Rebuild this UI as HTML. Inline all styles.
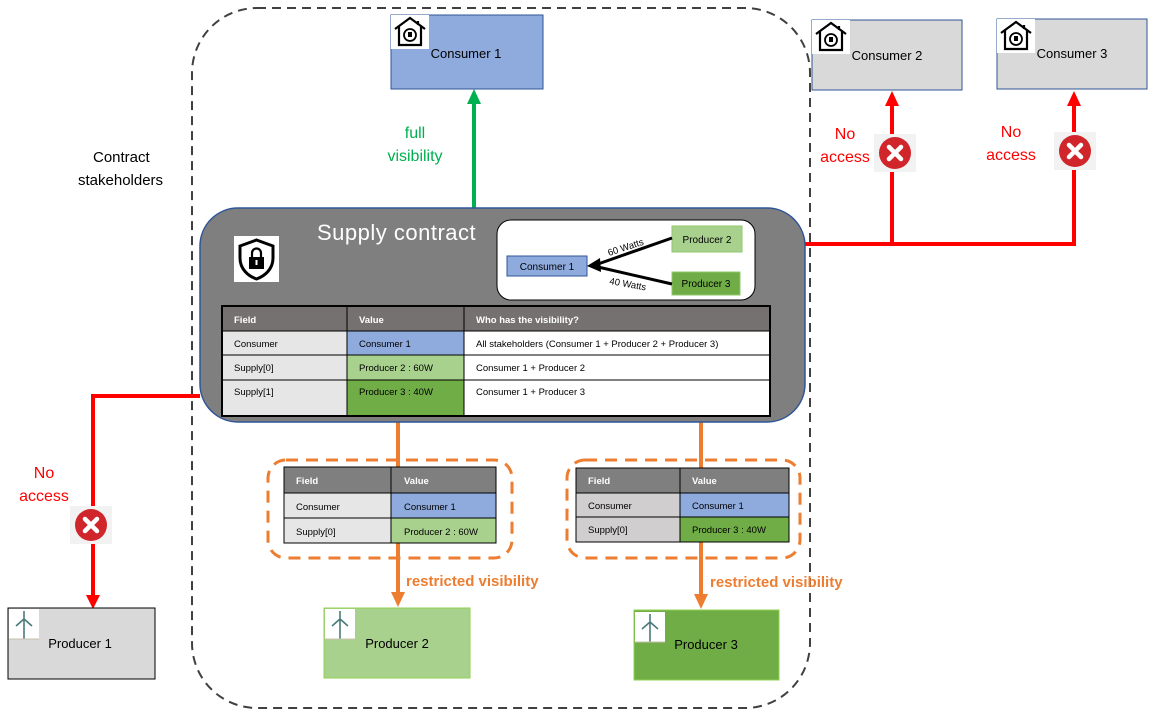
<!DOCTYPE html>
<html><head><meta charset="utf-8"><style>
html,body{margin:0;padding:0;background:#fff;}
svg{display:block;font-family:"Liberation Sans",sans-serif;}
</style></head><body>
<svg width="1157" height="718" viewBox="0 0 1157 718" xmlns="http://www.w3.org/2000/svg">
<defs>
<g id="house"><rect x="0" y="0" width="38" height="34" fill="#fff"/>
<path d="M4 14 L19 3 L34 14 M8 11 V30 H30 V11 M27 6 V10" fill="none" stroke="#000" stroke-width="2.2"/>
<circle cx="19" cy="20" r="6" fill="none" stroke="#000" stroke-width="1.8"/><rect x="17" y="17" width="4" height="5" fill="#000"/></g>
<g id="turb"><rect x="0" y="0" width="30" height="30" fill="#fff"/><path d="M15 10 V30 M15 10 L7 17 M15 10 L23 17 M15 10 L15 2" stroke="#4a7a7a" stroke-width="1.6" fill="none"/><line x1="0" y1="30" x2="30" y2="30" stroke="#c8c0b0"/></g>
<g id="xic"><rect x="-21" y="-19" width="42" height="38" fill="#f2f2f2"/><circle r="16" fill="#d0252b"/><path d="M-6 -6 L6 6 M6 -6 L-6 6" stroke="#fff" stroke-width="4.5" stroke-linecap="round"/></g>
</defs>

<!-- dashed container -->
<rect x="192" y="8" width="618" height="700" rx="65" fill="none" stroke="#404040" stroke-width="2" stroke-dasharray="9,6"/>
<text x="93" y="162" font-size="15">Contract</text>
<text x="78" y="185" font-size="15">stakeholders</text>

<!-- consumers -->
<rect x="391" y="15" width="152" height="74" fill="#8faadc" stroke="#2f5597"/>
<use href="#house" x="391" y="15"/>
<text x="466" y="58" font-size="13" text-anchor="middle">Consumer 1</text>
<rect x="812" y="20" width="150" height="70" fill="#d9d9d9" stroke="#2f5597"/>
<use href="#house" x="812" y="20"/>
<text x="887" y="60" font-size="13" text-anchor="middle">Consumer 2</text>
<rect x="997" y="19" width="150" height="70" fill="#d9d9d9" stroke="#2f5597"/>
<use href="#house" x="997" y="19"/>
<text x="1072" y="58" font-size="13" text-anchor="middle">Consumer 3</text>

<!-- green arrow -->
<line x1="474" y1="208" x2="474" y2="102" stroke="#00b050" stroke-width="4"/>
<path d="M467 104 L474 89 L481 104 Z" fill="#00b050"/>
<text x="415" y="138" font-size="16" fill="#00b050" text-anchor="middle">full</text>
<text x="415" y="161" font-size="16" fill="#00b050" text-anchor="middle">visibility</text>

<!-- red lines -->
<g stroke="#ff0000" stroke-width="4" fill="none">
<path d="M805 244 H1074 V104 M892 244 V104"/>
<path d="M200 396 H93 V597"/>
</g>
<path d="M885 106 L892 91 L899 106 Z M1067 106 L1074 91 L1081 106 Z M86 595 L93 609 L100 595 Z" fill="#ff0000"/>
<use href="#xic" x="895" y="153"/>
<use href="#xic" x="1075" y="151"/>
<use href="#xic" x="91" y="525"/>
<g font-size="16" fill="#ff0000" text-anchor="middle">
<text x="845" y="139">No</text><text x="845" y="162">access</text>
<text x="1011" y="137">No</text><text x="1011" y="160">access</text>
<text x="44" y="478">No</text><text x="44" y="501">access</text>
</g>

<!-- orange lines -->
<g stroke="#ed7d31" stroke-width="4">
<line x1="398" y1="422" x2="398" y2="594"/><line x1="701" y1="422" x2="701" y2="596"/></g>
<path d="M391 592 L398 607 L405 592 Z M694 594 L701 609 L708 594 Z" fill="#ed7d31"/>
<g font-size="15" font-weight="bold" fill="#ed7d31"><text x="406" y="586">restricted visibility</text><text x="710" y="587">restricted visibility</text></g>

<!-- supply contract -->
<rect x="200" y="208" width="605" height="214" rx="38" fill="#7f7f7f" stroke="#2f5597" stroke-width="1.5"/>
<text x="317" y="240" font-size="22" fill="#fff" letter-spacing="0.5">Supply  contract</text>
<rect x="234" y="236" width="45" height="46" fill="#fff"/>
<path d="M256.5 240 L273 246 V258 C273 269 265 276 256.5 279 C248 276 240 269 240 258 V246 Z" fill="none" stroke="#000" stroke-width="3"/>
<rect x="249" y="257" width="15" height="12" rx="1" fill="#000"/><path d="M252 258 V253 a4.5 4.5 0 0 1 9 0 V258" fill="none" stroke="#000" stroke-width="2.2"/>
<rect x="249" y="257" width="15" height="12" fill="#000"/><rect x="255.5" y="260" width="2" height="5" fill="#fff"/>

<rect x="497" y="220" width="258" height="80" rx="14" fill="#fff" stroke="#000"/>
<rect x="507" y="256" width="80" height="20" fill="#8faadc" stroke="#2f5597"/>
<text x="547" y="270" font-size="10" text-anchor="middle">Consumer 1</text>
<rect x="672" y="226" width="70" height="26" fill="#a9d18e" stroke="#8fc86a"/>
<text x="707" y="243" font-size="10" text-anchor="middle">Producer 2</text>
<rect x="672" y="272" width="68" height="23" fill="#70ad47" stroke="#8fc86a"/>
<text x="706" y="287" font-size="10" text-anchor="middle">Producer 3</text>
<g stroke="#000" stroke-width="3"><line x1="672" y1="238" x2="598" y2="264"/><line x1="672" y1="284" x2="598" y2="267"/></g>
<path d="M587 266 L600 258 L601 272 Z" fill="#000"/>
<text x="609" y="256" font-size="9.5" transform="rotate(-18 609 256)">60 Watts</text>
<text x="609" y="284" font-size="9.5" transform="rotate(10 609 284)">40 Watts</text>

<!-- big table -->
<g stroke="#000" stroke-width="1">
<rect x="222" y="306" width="548" height="25" fill="#767171"/>
<rect x="222" y="331" width="125" height="85" fill="#e7e6e6"/>
<rect x="347" y="331" width="117" height="24" fill="#8faadc"/>
<rect x="347" y="355" width="117" height="25" fill="#a9d18e"/>
<rect x="347" y="380" width="117" height="36" fill="#70ad47"/>
<rect x="464" y="331" width="306" height="85" fill="#fff"/>
<line x1="222" y1="355" x2="770" y2="355"/><line x1="222" y1="380" x2="770" y2="380"/>
<line x1="347" y1="306" x2="347" y2="416"/><line x1="464" y1="306" x2="464" y2="416"/>
</g>
<rect x="222" y="306" width="548" height="110" fill="none" stroke="#000" stroke-width="2"/>
<g font-size="9.5" fill="#fff" font-weight="bold"><text x="234" y="323">Field</text><text x="359" y="323">Value</text><text x="476" y="323">Who has the visibility?</text></g>
<g font-size="9.5"><text x="234" y="347">Consumer</text><text x="359" y="347">Consumer 1</text><text x="476" y="347">All stakeholders (Consumer 1 + Producer 2 + Producer 3)</text>
<text x="234" y="371">Supply[0]</text><text x="359" y="371">Producer 2 : 60W</text><text x="476" y="371">Consumer 1 + Producer 2</text>
<text x="234" y="395">Supply[1]</text><text x="359" y="395">Producer 3 : 40W</text><text x="476" y="395">Consumer 1 + Producer 3</text></g>

<!-- dashed orange boxes -->
<rect x="268" y="460" width="244" height="98" rx="18" fill="none" stroke="#ed7d31" stroke-width="3" stroke-dasharray="12,8"/>
<rect x="567" y="460" width="233" height="98" rx="18" fill="none" stroke="#ed7d31" stroke-width="3" stroke-dasharray="12,8"/>

<!-- small tables -->
<g stroke="#000">
<rect x="284" y="467" width="212" height="26" fill="#7f7f7f"/>
<rect x="284" y="493" width="107" height="50" fill="#e7e6e6"/>
<rect x="391" y="493" width="105" height="25" fill="#8faadc"/>
<rect x="391" y="518" width="105" height="25" fill="#a9d18e"/>
<line x1="284" y1="518" x2="391" y2="518"/><line x1="391" y1="467" x2="391" y2="493"/>
<rect x="576" y="468" width="213" height="25" fill="#7f7f7f"/>
<rect x="576" y="493" width="104" height="49" fill="#d0cece"/>
<rect x="680" y="493" width="109" height="24" fill="#8faadc"/>
<rect x="680" y="517" width="109" height="25" fill="#70ad47"/>
<line x1="576" y1="517" x2="680" y2="517"/><line x1="680" y1="468" x2="680" y2="493"/>
</g>
<g font-size="9.5"><g fill="#fff" font-weight="bold"><text x="296" y="484">Field</text><text x="404" y="484">Value</text><text x="588" y="484">Field</text><text x="692" y="484">Value</text></g>
<text x="296" y="510">Consumer</text><text x="404" y="510">Consumer 1</text><text x="296" y="535">Supply[0]</text><text x="404" y="535">Producer 2 : 60W</text>
<text x="588" y="509">Consumer</text><text x="692" y="509">Consumer 1</text><text x="588" y="533">Supply[0]</text><text x="692" y="533">Producer 3 : 40W</text></g>

<!-- producers -->
<rect x="8" y="608" width="147" height="71" fill="#d9d9d9" stroke="#000"/>
<use href="#turb" x="9" y="609"/>
<text x="80" y="648" font-size="13" text-anchor="middle">Producer 1</text>
<rect x="324" y="608" width="146" height="70" fill="#a9d18e" stroke="#8fd14f"/>
<use href="#turb" x="325" y="609"/>
<text x="397" y="648" font-size="13" text-anchor="middle">Producer 2</text>
<rect x="634" y="610" width="145" height="70" fill="#70ad47" stroke="#8fd14f"/>
<use href="#turb" x="635" y="612"/>
<text x="706" y="649" font-size="13" text-anchor="middle">Producer 3</text>
</svg>
</body></html>
